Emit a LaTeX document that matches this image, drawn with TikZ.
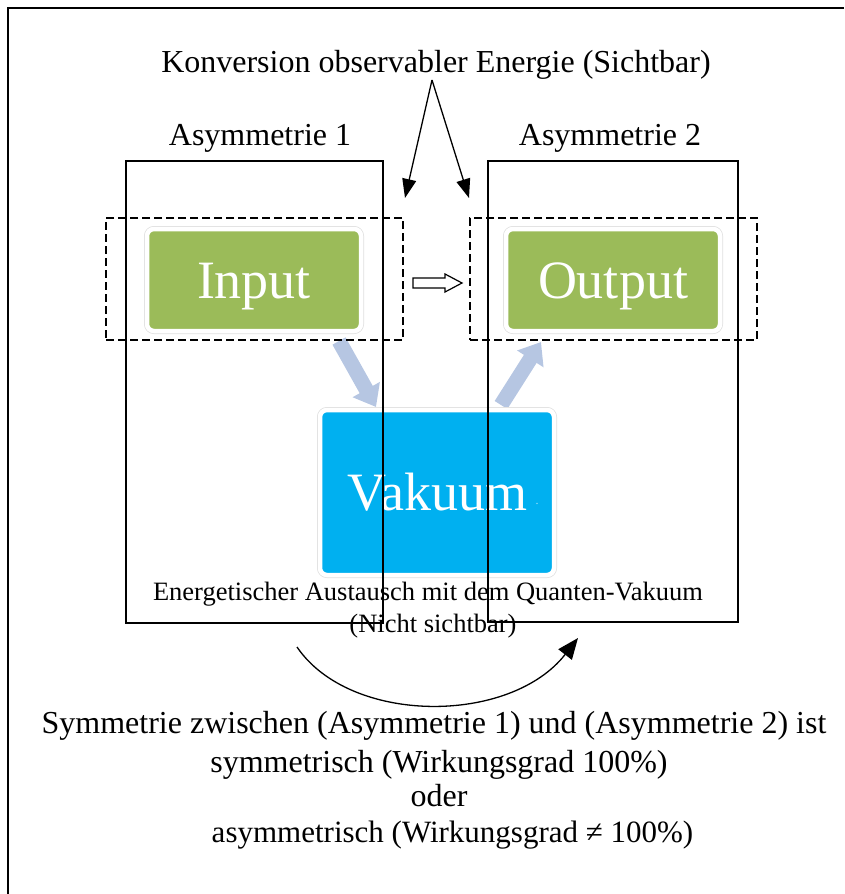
\documentclass[tikz,border=0pt]{standalone}
\usepackage{fontspec}
\setmainfont{Liberation Serif}
\usetikzlibrary{arrows.meta}

\definecolor{inputgreen}{RGB}{155,187,89}
\definecolor{vakuumblue}{RGB}{0,176,240}
\definecolor{flowblue}{RGB}{182,198,226}

\begin{document}
\begin{tikzpicture}[x=1pt,y=-1pt,
      every node/.append style={inner sep=0pt,outer sep=0pt},
      bigtext/.style={font=\fontsize{32}{38}\selectfont,anchor=base},
      smalltext/.style={font=\fontsize{26.5}{32}\selectfont,anchor=base},
      tile/.style={rounded corners=7pt,preaction={draw=black!12,line width=6pt},
                   draw=white,line width=4.5pt,text=white,
                   text height=36pt,text depth=0pt,font=\fontsize{54}{60}\selectfont},
      frame/.style={draw=black,line width=1.5pt},
      zone/.style={draw=black,line width=1.3pt,dash pattern=on 8pt off 4pt},
      pointer/.style={line width=1.3pt,-{Triangle[length=19pt,width=14pt]}},
      flow/.style={draw=flowblue,line width=15pt,-{Triangle[length=20pt,width=30pt]}}]
    \useasboundingbox (0,0) rectangle (844,894);
    \draw[line width=2pt] (844,8) -- (8,8) -- (8,894);

    % energy flow through the vacuum
    \coordinate (flowA1) at (339,341);
    \coordinate (flowA2) at (376,407);
    \coordinate (flowB1) at (501,405);
    \coordinate (flowB2) at (541,342);
    \draw[flow] (flowA1) -- (flowA2);
    \draw[flow] (flowB1) -- (flowB2);

    \node (input) [tile,fill=inputgreen,minimum width=214pt,minimum height=102pt] at (254,280) {Input};
    \node (output) [tile,fill=inputgreen,minimum width=214pt,minimum height=102pt] at (613,280) {Output};
    \node (vakuum) [tile,fill=vakuumblue,minimum width=234pt,minimum height=165pt] at (437,492.5) {Vakuum};
    \node (dot) [text=white!65!vakuumblue,font=\fontsize{12}{14}\selectfont] at (537,504) {.};

    \node (asymA) [frame,minimum width=257pt,minimum height=462pt] at (254.5,392) {};
    \node (asymB) [frame,minimum width=250pt,minimum height=461pt] at (613,391.5) {};
    \node (zoneA) [zone,minimum width=297pt,minimum height=122pt] at (254.5,279) {};
    \node (zoneB) [zone,minimum width=287pt,minimum height=122pt] at (613.5,279) {};

    % hollow conversion arrow
    \coordinate (conv) at (413,283);
    \draw[line width=1.2pt] (conv) -- ++(0,-5) -- ++(32,0) -- ++(0,-4) -- ++(17,9)
      -- ++(-17,9) -- ++(0,-4) -- ++(-32,0) -- cycle;

    \node (title) [bigtext] at (436,72) {Konversion observabler Energie (Sichtbar)};
    \node (labelA) [bigtext] at (260,145) {Asymmetrie 1};
    \node (labelB) [bigtext] at (610,145) {Asymmetrie 2};
    \coordinate (apex) at (432,80);
    \coordinate (tipA) at (405,198);
    \coordinate (tipB) at (469,198);
    \draw[pointer] (apex) -- (tipA);
    \draw[pointer] (apex) -- (tipB);

    \node (exchange) [smalltext] at (428,600) {Energetischer Austausch mit dem Quanten-Vakuum};
    \node (hidden) [smalltext] at (433,632) {(Nicht sichtbar)};

    \coordinate (swingA) at (297,647);
    \coordinate (swingB) at (578,638);
    \draw[line width=1.3pt,-{Triangle[length=21pt,width=17pt]}]
      (swingA) .. controls (350,725) and (510,725) .. (swingB);

    \node (symA) [bigtext] at (434,733) {Symmetrie zwischen (Asymmetrie 1) und (Asymmetrie 2) ist};
    \node (symB) [bigtext] at (439,772) {symmetrisch (Wirkungsgrad 100\%)};
    \node (oder) [bigtext] at (439,806) {oder};
    \node (symC) [bigtext,font=\fontsize{31}{37}\selectfont] at (452.5,842) {asymmetrisch (Wirkungsgrad ≠ 100\%)};
\end{tikzpicture}
\end{document}
